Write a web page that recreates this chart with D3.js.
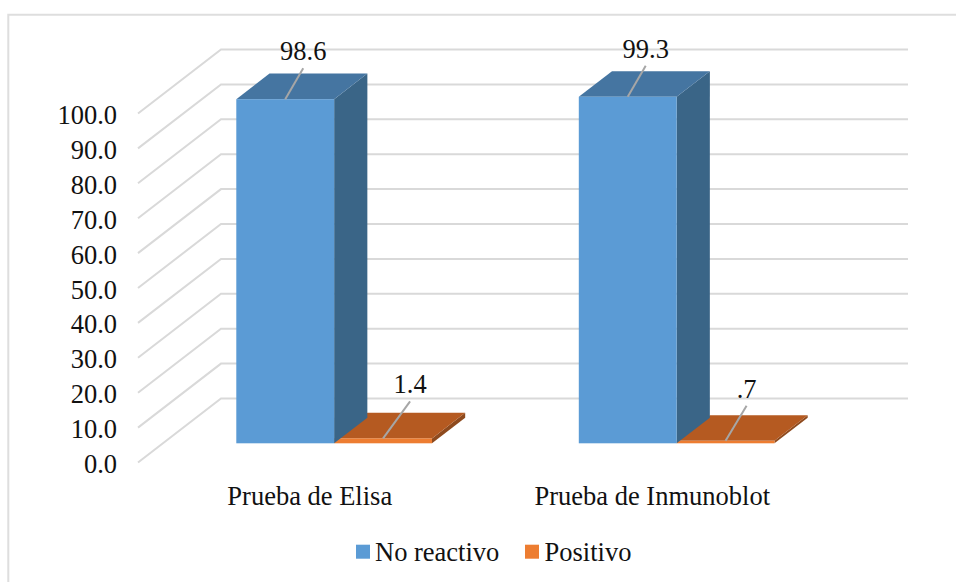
<!DOCTYPE html>
<html><head><meta charset="utf-8">
<script src="https://cdn.jsdelivr.net/npm/d3@7/dist/d3.min.js"></script>
<style>html,body{margin:0;padding:0;background:#fff}svg{display:block}text{font-family:"Liberation Serif",serif;fill:#111}</style>
</head><body><svg id="c" width="956" height="582"></svg>
<script>
const categories=["Prueba de Elisa","Prueba de Inmunoblot"];
const seriesNames=["No reactivo","Positivo"];
const noReactivo=[98.6,99.3];
const positivo=[1.4,0.7];
const valueLabels=[["98.6","99.3"],["1.4",".7"]];
const ticks=[0,10,20,30,40,50,60,70,80,90,100];
const frontColors=["#5B9BD5","#ED7D31"];
const topColors=["#4575A1","#B55A21"];
const sideColors=["#3A6587","#8E4A1E"];

const svg=d3.select("#c");
const x0=d3.scaleBand().domain(categories).range([138,823]);
const y=d3.scaleLinear().domain([0,100]).range([462.5,113.5]);
const wallDx=83,wallDy=-64,wallRight=908;
const barFrac=0.2857,floorFrac=0.3,barDepth=0.4;
const barW=x0.bandwidth()*barFrac;
const ddx=wallDx*barDepth,ddy=wallDy*barDepth;
const baseShift=wallDy*floorFrac;
const xShift=x0.bandwidth()/2-barW+wallDx*floorFrac;
const yb=v=>y(v)+baseShift;
// leader-line end offset from the bar's top-centre: [series][category]
const leaderDx=[[18,18],[27,21]];
const leaderDy=[[31,31],[37,35]];

svg.append("path").attr("d","M8.3,582V14.8H956").attr("fill","none").attr("stroke","#DEDEDE").attr("stroke-width",2);

svg.append("g").selectAll("path").data(ticks).join("path")
 .attr("d",d=>d3.line()([[138,y(d)],[138+wallDx,y(d)+wallDy],[wallRight,y(d)+wallDy]]))
 .attr("fill","none").attr("stroke","#D9D9D9").attr("stroke-width",2);

svg.append("g").selectAll("text").data(ticks).join("text")
 .attr("x",117).attr("y",d=>y(d)+10.5).attr("text-anchor","end").attr("font-size",26.5)
 .text(d=>d.toFixed(1));

function bar(g,left,v,i){
 const t=yb(v),b=yb(0),r=left+barW;
 g.append("path").attr("d",d3.line()([[r,t],[r+ddx,t+ddy],[r+ddx,b+ddy],[r,b]])).attr("fill",sideColors[i]);
 g.append("path").attr("d",d3.line()([[left,t],[r,t],[r+ddx,t+ddy],[left+ddx,t+ddy]])).attr("fill",topColors[i]);
 g.append("rect").attr("x",left).attr("y",t).attr("width",barW).attr("height",b-t).attr("fill",frontColors[i]);
}
const bars=svg.append("g");
categories.forEach((c,k)=>{
 const l=x0(c)+xShift;
 bar(bars,l+barW,positivo[k],1);
 bar(bars,l,noReactivo[k],0);
});

const lab=svg.append("g");
[noReactivo,positivo].forEach((vals,i)=>{
 vals.forEach((v,k)=>{
  const c=categories[k];
  const l=x0(c)+xShift+i*barW;
  const sx=l+barW/2,sy=yb(v);
  const ex=sx+leaderDx[i][k],ey=sy-leaderDy[i][k];
  lab.append("line").attr("x1",sx).attr("y1",sy).attr("x2",ex).attr("y2",ey)
   .attr("stroke","#A6A6A6").attr("stroke-width",2);
  lab.append("text").attr("x",ex).attr("y",ey-8).attr("text-anchor","middle").attr("font-size",26.5)
   .text(valueLabels[i][k]);
 });
});

svg.append("g").selectAll("text").data(categories).join("text")
 .attr("x",d=>x0(d)+x0.bandwidth()/2+0.5).attr("y",505).attr("text-anchor","middle").attr("font-size",26.5)
 .text(d=>d);

const legX=[356,525],legT=[375,544.5];
const lg=svg.append("g");
seriesNames.forEach((s,i)=>{
 lg.append("rect").attr("x",legX[i]).attr("y",544.7).attr("width",14).attr("height",14).attr("fill",frontColors[i]);
 lg.append("text").attr("x",legT[i]).attr("y",561).attr("font-size",26.5).text(s);
});
</script></body></html>
